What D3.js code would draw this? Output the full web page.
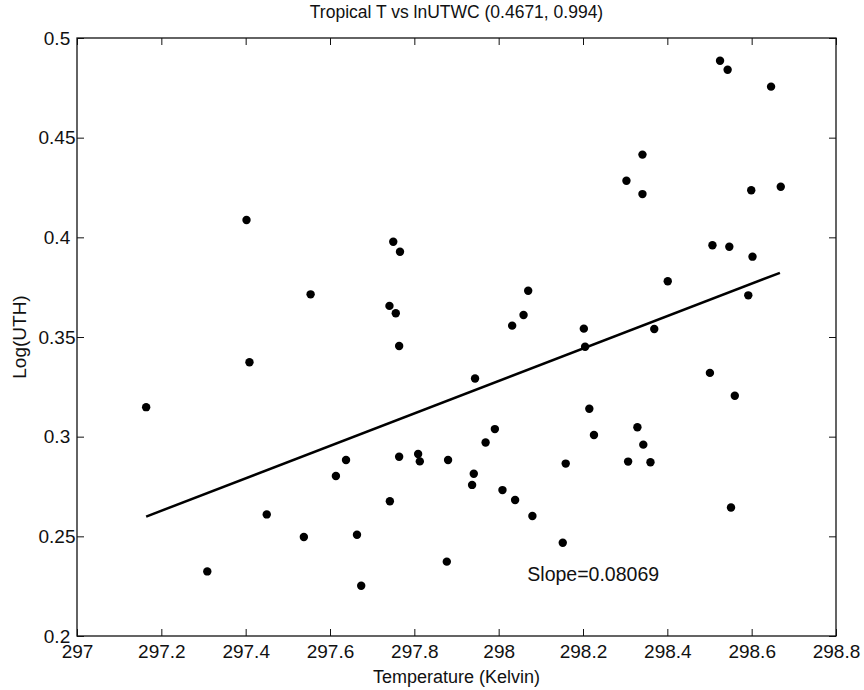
<!DOCTYPE html>
<html><head><meta charset="utf-8">
<script src="https://cdn.jsdelivr.net/npm/d3@7"></script>
<style>body{margin:0;background:#fff}svg{display:block}text{font-family:"Liberation Sans",Arial,Helvetica,sans-serif;fill:#111}</style>
</head><body><svg id="c" width="864" height="690"></svg>
<script>
const temps = [297.402,297.750,297.766,297.554,297.741,297.756,297.764,298.525,298.543,298.646,298.341,298.303,298.341,298.599,298.669,298.507,298.547,298.602,298.401,298.070,298.059,298.032,298.202,298.369,298.592,298.205,297.164,297.409,297.450,297.309,297.538,297.614,297.638,297.664,297.674,297.742,297.764,297.809,297.813,297.880,297.877,297.944,298.501,298.560,298.215,298.226,297.991,297.969,298.329,298.343,298.307,298.360,298.159,297.941,297.937,298.009,298.039,298.080,298.152,298.551];
const logUTH = [0.4087,0.3978,0.3928,0.3714,0.3656,0.3619,0.3455,0.4886,0.4841,0.4756,0.4415,0.4284,0.4217,0.4236,0.4254,0.3960,0.3953,0.3903,0.3780,0.3732,0.3610,0.3557,0.3542,0.3540,0.3709,0.3451,0.3148,0.3373,0.2610,0.2324,0.2497,0.2803,0.2883,0.2508,0.2252,0.2676,0.2899,0.2913,0.2876,0.2883,0.2373,0.3292,0.3320,0.3205,0.3140,0.3008,0.3038,0.2971,0.3047,0.2960,0.2875,0.2872,0.2865,0.2814,0.2758,0.2732,0.2682,0.2602,0.2468,0.2645];
const fitX = [297.164, 298.667];
const fitY = [0.2599, 0.3822];
const xTicks = [297,297.2,297.4,297.6,297.8,298,298.2,298.4,298.6,298.8];
const yTicks = [0.2,0.25,0.3,0.35,0.4,0.45,0.5];
const titleText = "Tropical T vs lnUTWC (0.4671, 0.994)";
const xLabel = "Temperature (Kelvin)";
const yLabel = "Log(UTH)";
const slopeText = "Slope=0.08069";
const slopePos = [298.068, 0.2276];

const svg = d3.select("#c");
const m = {l:77, r:28, t:38, b:54};
const W = 864, H = 690;
const x = d3.scaleLinear().domain([297,298.8]).range([m.l, W-m.r]);
const y = d3.scaleLinear().domain([0.2,0.5]).range([H-m.b, m.t]);
const fmt = d => String(+d.toFixed(2));
const tl = 7;

svg.append("g").attr("transform",`translate(0,${H-m.b})`)
  .call(d3.axisBottom(x).tickValues(xTicks).tickFormat(fmt).tickSizeInner(-tl).tickSizeOuter(0).tickPadding(9))
  .call(g=>{g.select(".domain").remove();g.selectAll("line").attr("stroke","#111");g.selectAll("text").attr("font-size",19).attr("fill","#111");});
svg.append("g").attr("transform",`translate(0,${m.t})`)
  .call(d3.axisTop(x).tickValues(xTicks).tickFormat("").tickSizeInner(-tl).tickSizeOuter(0))
  .call(g=>{g.select(".domain").remove();g.selectAll("line").attr("stroke","#111");});
svg.append("g").attr("transform",`translate(${m.l},0)`)
  .call(d3.axisLeft(y).tickValues(yTicks).tickFormat(fmt).tickSizeInner(-tl).tickSizeOuter(0))
  .call(g=>{g.select(".domain").remove();g.selectAll("line").attr("stroke","#111");
    g.selectAll("text").attr("font-size",19).attr("fill","#111").attr("text-anchor","middle").attr("x",-20);});
svg.append("g").attr("transform",`translate(${W-m.r},0)`)
  .call(d3.axisRight(y).tickValues(yTicks).tickFormat("").tickSizeInner(-tl).tickSizeOuter(0))
  .call(g=>{g.select(".domain").remove();g.selectAll("line").attr("stroke","#111");});

svg.append("rect").attr("x",m.l).attr("y",m.t).attr("width",W-m.l-m.r).attr("height",H-m.t-m.b)
  .attr("fill","none").attr("stroke","#111").attr("stroke-width",1.3);

svg.append("g").selectAll("circle").data(temps.map((t,i)=>[t,logUTH[i]])).join("circle")
  .attr("cx",d=>x(d[0])).attr("cy",d=>y(d[1])).attr("r",4.2).attr("fill","#000");

svg.append("line").attr("x1",x(fitX[0])).attr("y1",y(fitY[0])).attr("x2",x(fitX[1])).attr("y2",y(fitY[1]))
  .attr("stroke","#000").attr("stroke-width",2.5);

svg.append("text").attr("x",x(slopePos[0])).attr("y",y(slopePos[1])).attr("font-size",19.5).text(slopeText);
svg.append("text").attr("x",(m.l+W-m.r)/2).attr("y",18).attr("text-anchor","middle").attr("font-size",17.5).text(titleText);
svg.append("text").attr("x",(m.l+W-m.r)/2).attr("y",683).attr("text-anchor","middle").attr("font-size",18).text(xLabel);
svg.append("text").attr("transform",`translate(26,${(m.t+H-m.b)/2}) rotate(-90)`).attr("text-anchor","middle").attr("font-size",19).text(yLabel);
</script></body></html>
